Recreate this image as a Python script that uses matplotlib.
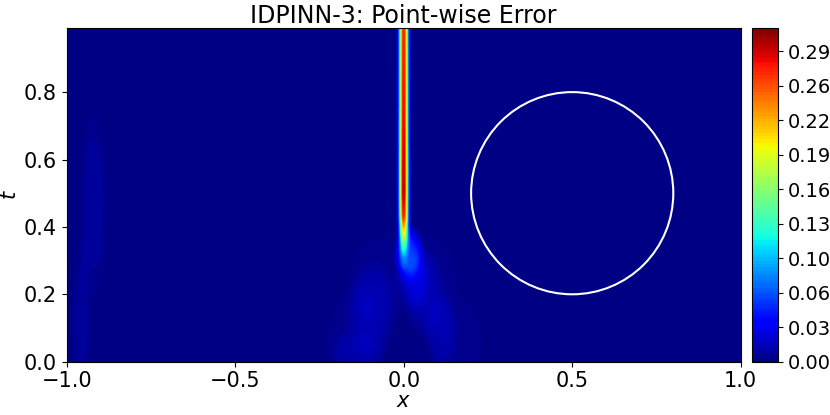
import numpy as np
import matplotlib
matplotlib.use("Agg")
import matplotlib.pyplot as plt

# domain of the solution
x_range = [-1.0, 1.0]
t_range = [0.0, 0.99]

# error ridge along the shock at x = 0 (amplitude read at several t)
ridge_x = 0.0
ridge_width = 0.008
ridge_t = [0.0, 0.27, 0.31, 0.35, 0.39, 0.43, 0.50, 0.60, 0.75, 0.90, 0.99]
ridge_amp = [0.0, 0.0, 0.03, 0.10, 0.20, 0.27, 0.295, 0.29, 0.28, 0.275, 0.27]

# low level error patches: x, t, sx, st, amplitude
blob_x = [-0.15, -0.08, 0.08, 0.16, -0.09, 0.06, 0.11, -0.14, 0.015, 0.03, -0.92, -0.955]
blob_t = [0.08, 0.25, 0.25, 0.07, 0.15, 0.20, 0.09, 0.03, 0.32, 0.25, 0.47, 0.12]
blob_sx = [0.06, 0.06, 0.06, 0.06, 0.045, 0.035, 0.03, 0.05, 0.025, 0.03, 0.028, 0.016]
blob_st = [0.10, 0.10, 0.10, 0.09, 0.09, 0.08, 0.07, 0.04, 0.05, 0.06, 0.19, 0.15]
blob_amp = [0.005, 0.005, 0.005, 0.005, 0.009, 0.009, 0.008, 0.007, 0.045, 0.013, 0.008, 0.008]

# colour scale
level_max = 0.31
cbar_max = 0.2885

# circle marker
circle_center = (0.5, 0.5)
circle_radius = 0.3

x = np.linspace(x_range[0], x_range[1], 801)
t = np.linspace(t_range[0], t_range[1], 100)
X, T = np.meshgrid(x, t)

amp = np.interp(T, ridge_t, ridge_amp)
err = amp * np.exp(-(X - ridge_x) ** 2 / (2 * ridge_width ** 2))
for bx, bt, sx, st, a in zip(blob_x, blob_t, blob_sx, blob_st, blob_amp):
    q = (X - bx) ** 2 / (2 * sx ** 2) + (T - bt) ** 2 / (2 * st ** 2)
    err += a * np.exp(-q ** 2)

fig = plt.figure(figsize=(8.3, 4.15), dpi=100)
ax = fig.add_axes([0.0804, 0.1284, 0.812, 0.804])
cax = fig.add_axes([752 / 830, 0.1284, 26 / 830, 0.804])

cf = ax.contourf(X, T, err, levels=np.linspace(0, level_max, 100), cmap="jet")
circ = plt.Circle(circle_center, circle_radius, fill=False, color="white", lw=1.5)
ax.add_patch(circ)
ax.set_xlim(x_range)
ax.set_ylim(t_range)
ax.set_aspect("equal")
ax.set_xticks([-1.0, -0.5, 0.0, 0.5, 1.0])
ax.set_yticks([0.0, 0.2, 0.4, 0.6, 0.8])
ax.tick_params(labelsize=15)
ax.set_xlabel("$x$", fontsize=15, labelpad=0)
ax.set_ylabel("$t$", fontsize=15, labelpad=3)
ax.set_title("IDPINN-3: Point-wise Error", fontsize=17, pad=3)

cb = fig.colorbar(cf, cax=cax, ticks=np.linspace(0, cbar_max, 10), format="%.2f")
cb.ax.tick_params(labelsize=14)

fig.savefig("out.png", dpi=100)
